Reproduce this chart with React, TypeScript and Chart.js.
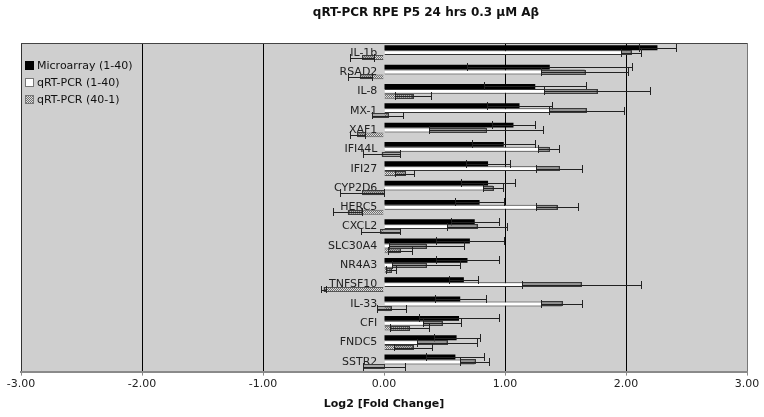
import React, { useEffect, useRef } from 'react';
import { Chart, registerables } from 'chart.js';

Chart.register(...registerables);

const genes = ['IL-1b', 'RSAD2', 'IL-8', 'MX-1', 'XAF1', 'IFI44L', 'IFI27', 'CYP2D6', 'HERC5', 'CXCL2', 'SLC30A4', 'NR4A3', 'TNFSF10', 'IL-33', 'CFI', 'FNDC5', 'SSTR2'];
const microarray = [2.26, 1.37, 1.25, 1.12, 1.07, 0.99, 0.86, 0.86, 0.79, 0.75, 0.71, 0.69, 0.66, 0.63, 0.62, 0.60, 0.59];
const microarrayErr = [0.15, 0.68, 0.42, 0.27, 0.18, 0.26, 0.18, 0.22, 0.20, 0.20, 0.28, 0.26, 0.12, 0.21, 0.33, 0.19, 0.24];
const qpcr140 = [2.04, 1.66, 1.76, 1.67, 0.84, 1.36, 1.45, 0.90, 1.43, 0.77, 0.35, 0.35, 1.63, 1.47, 0.48, 0.52, 0.75];
const qpcr140Err = [0.08, 0.36, 0.44, 0.31, 0.47, 0.09, 0.19, 0.08, 0.17, 0.25, 0.31, 0.28, 0.49, 0.17, 0.16, 0.25, 0.12];
const qpcr401 = [-0.18, -0.20, 0.24, 0.03, -0.22, -0.02, 0.17, -0.18, -0.30, -0.03, 0.13, 0.06, -0.50, 0.06, 0.21, 0.24, 0.00];
const qpcr401Err = [0.10, 0.10, 0.15, 0.13, 0.06, 0.15, 0.08, 0.18, 0.12, 0.16, 0.10, 0.04, 0.02, 0.12, 0.16, 0.16, 0.17];
const seriesLabels = ['Microarray (1-40)', 'qRT-PCR (1-40)', 'qRT-PCR (40-1)'];
const titleText = 'qRT-PCR RPE P5 24 hrs 0.3 \u03BCM A\u03B2';
const xTitle = 'Log2 [Fold Change]';
const xMin = -3;
const xMax = 3;

const FONT = '"DejaVu Sans", Verdana, sans-serif';

function makePattern(): CanvasPattern | string {
  const pc = document.createElement('canvas');
  pc.width = 2;
  pc.height = 2;
  const g = pc.getContext('2d');
  if (!g) return '#999';
  g.fillStyle = '#dcdcdc';
  g.fillRect(0, 0, 2, 2);
  g.fillStyle = '#6e6e6e';
  g.fillRect(0, 0, 1, 1);
  g.fillRect(1, 1, 1, 1);
  const p = g.createPattern(pc, 'repeat');
  return p || '#999';
}

const bgPlugin = {
  id: 'plotBg',
  beforeDraw(chart: any) {
    const { ctx, chartArea: a } = chart;
    ctx.save();
    ctx.fillStyle = '#ffffff';
    ctx.fillRect(0, 0, chart.width, chart.height);
    ctx.fillStyle = '#cfcfcf';
    ctx.fillRect(a.left, a.top, a.right - a.left, a.bottom - a.top);
    ctx.restore();
  },
};

const errorBarPlugin = {
  id: 'errorBars',
  afterDatasetsDraw(chart: any) {
    const ctx = chart.ctx;
    const xs = chart.scales.x;
    chart.data.datasets.forEach((ds: any, di: number) => {
      const errs: number[] = ds.errors;
      if (!errs) return;
      const meta = chart.getDatasetMeta(di);
      meta.data.forEach((bar: any, i: number) => {
        const v = ds.data[i];
        const e = errs[i];
        const { y, height } = bar.getProps(['y', 'height'], true);
        const half = height / 2;
        const pLo = Math.round(xs.getPixelForValue(v - e)) + 0.5;
        const pHi = Math.round(xs.getPixelForValue(v + e)) + 0.5;
        const pV = Math.round(xs.getPixelForValue(v)) + 0.5;
        const yc = Math.round(y) + 0.5;
        ctx.save();
        if (ds.shadeError) {
          const inner = v >= 0 ? v - e : v + e;
          const pIn = Math.round(xs.getPixelForValue(inner)) + 0.5;
          const x0 = Math.min(pIn, pV);
          const w = Math.abs(pV - pIn);
          ctx.fillStyle = ds.shadeColor;
          ctx.fillRect(x0, Math.round(y - half) + 1, w, Math.max(1, Math.round(height) - 2));
          ctx.strokeStyle = '#3a3a3a';
          ctx.lineWidth = 1;
          ctx.strokeRect(x0, Math.round(y - half) + 0.5, w, Math.max(1, Math.round(height) - 1));
        }
        ctx.strokeStyle = '#222';
        ctx.lineWidth = 1;
        ctx.beginPath();
        ctx.moveTo(pLo, yc);
        ctx.lineTo(pHi, yc);
        ctx.moveTo(pLo, Math.round(y - half - 1.5));
        ctx.lineTo(pLo, Math.round(y + half + 1.5));
        ctx.moveTo(pHi, Math.round(y - half - 1.5));
        ctx.lineTo(pHi, Math.round(y + half + 1.5));
        ctx.stroke();
        ctx.restore();
      });
    });
  },
};

const decorPlugin = {
  id: 'decor',
  afterDraw(chart: any) {
    const { ctx, chartArea: a } = chart;
    ctx.save();
    // top border
    ctx.strokeStyle = '#444';
    ctx.lineWidth = 1;
    ctx.beginPath();
    ctx.moveTo(a.left, Math.round(a.top) + 0.5);
    ctx.lineTo(a.right, Math.round(a.top) + 0.5);
    ctx.stroke();
    // legend
    ctx.font = '11px ' + FONT;
    ctx.textBaseline = 'middle';
    ctx.textAlign = 'left';
    chart.data.datasets.forEach((ds: any, i: number) => {
      const yc = Math.round(a.top + 22 + i * 17);
      const x0 = Math.round(a.left + 4);
      ctx.fillStyle = ds.backgroundColor;
      ctx.fillRect(x0, yc - 4, 9, 9);
      if (ds.borderWidth) {
        ctx.strokeStyle = '#777';
        ctx.strokeRect(x0 + 0.5, yc - 3.5, 8, 8);
      }
      ctx.fillStyle = '#111';
      ctx.fillText(ds.label, x0 + 12, yc + 1);
    });
    // title
    ctx.font = 'bold 12px ' + FONT;
    ctx.textAlign = 'center';
    ctx.fillStyle = '#111';
    ctx.fillText(titleText, chart.width / 2 + 44, 13);
    ctx.restore();
  },
};

export default function App() {
  const ref = useRef<HTMLCanvasElement | null>(null);
  useEffect(() => {
    if (!ref.current) return;
    const pattern = makePattern();
    const chart = new Chart(ref.current, {
      type: 'bar',
      data: {
        labels: genes,
        datasets: [
          {
            label: seriesLabels[0],
            data: microarray,
            errors: microarrayErr,
            shadeError: false,
            backgroundColor: '#000000',
            borderWidth: 0,
            categoryPercentage: 0.76,
            barPercentage: 1,
          } as any,
          {
            label: seriesLabels[1],
            data: qpcr140,
            errors: qpcr140Err,
            shadeError: true,
            shadeColor: 'rgba(120,120,120,0.8)',
            backgroundColor: '#ffffff',
            borderColor: '#333',
            borderWidth: 1,
            categoryPercentage: 0.76,
            barPercentage: 1,
          } as any,
          {
            label: seriesLabels[2],
            data: qpcr401,
            errors: qpcr401Err,
            shadeError: true,
            shadeColor: 'rgba(80,80,80,0.3)',
            backgroundColor: pattern,
            borderColor: '#555',
            borderWidth: 1,
            categoryPercentage: 0.76,
            barPercentage: 1,
          } as any,
        ],
      },
      options: {
        indexAxis: 'y',
        responsive: false,
        animation: false,
        devicePixelRatio: 1,
        layout: { padding: { left: 21, right: 17, top: 43, bottom: 6 } },
        plugins: {
          legend: { display: false },
          title: { display: false },
          tooltip: { enabled: false },
        },
        scales: {
          x: {
            type: 'linear',
            min: xMin,
            max: xMax,
            ticks: {
              stepSize: 1,
              color: '#222',
              font: { family: FONT, size: 11 },
              padding: 2,
              callback: (v: any) => Number(v).toFixed(2),
            },
            grid: {
              color: (c: any) => {
                const v = c.tick ? c.tick.value : 0;
                if (v === 0) return 'rgba(0,0,0,0)';
                if (v === xMax) return '#777';
                if (v === xMin) return '#333';
                return '#000';
              },
              lineWidth: 1,
              tickLength: 4,
              tickColor: '#888',
            },
            border: { display: true, color: '#8a8a8a', width: 2 },
            title: {
              display: true,
              text: xTitle,
              color: '#111',
              font: { family: FONT, size: 11, weight: 'bold' },
              padding: { top: 5, bottom: 0 },
            },
          },
          y: {
            type: 'category',
            position: { x: -0.055 } as any,
            z: 1,
            offset: true,
            ticks: {
              color: '#222',
              font: { family: FONT, size: 11 },
              padding: 0,
              autoSkip: false,
            },
            grid: {
              display: false,
              drawOnChartArea: false,
            },
            border: { display: false },
          },
        },
      } as any,
      plugins: [bgPlugin, errorBarPlugin, decorPlugin],
    });
    return () => chart.destroy();
  }, []);
  return (
    <div style={{ position: 'absolute', left: 0, top: 0, width: 764, height: 417, background: '#fff' }}>
      <canvas ref={ref} width={764} height={417} />
    </div>
  );
}
